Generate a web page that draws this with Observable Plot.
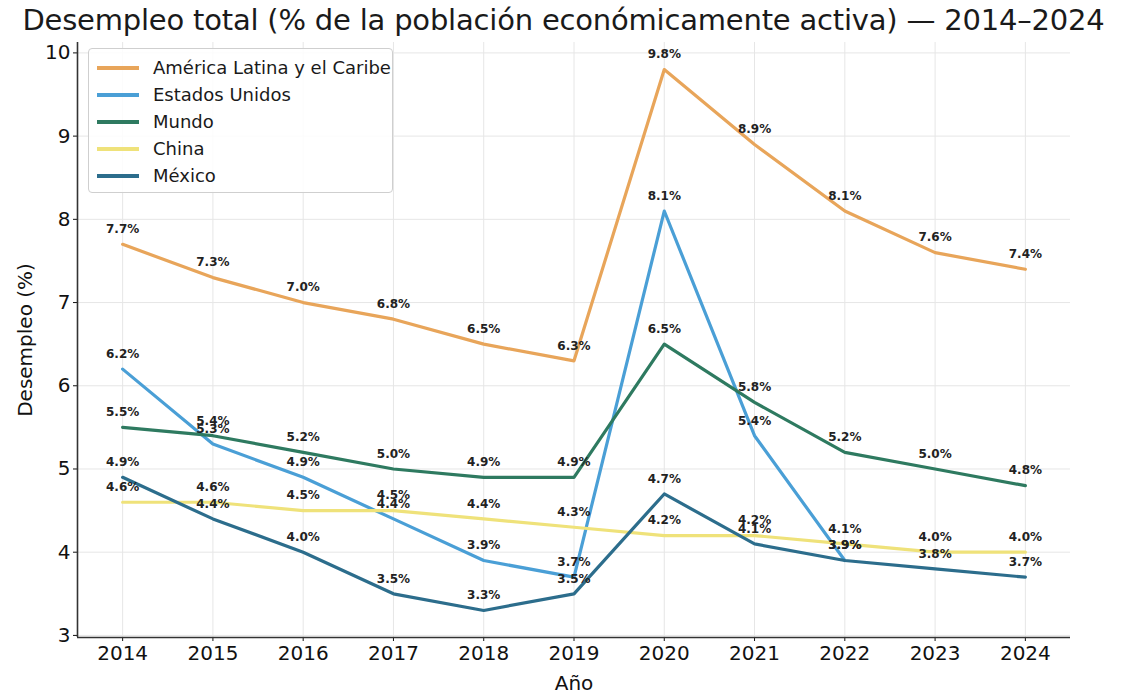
<!DOCTYPE html>
<html><head><meta charset="utf-8">
<script src="https://cdn.jsdelivr.net/npm/d3@7"></script>
<script src="https://cdn.jsdelivr.net/npm/@observablehq/plot@0.6"></script>
<style>
body{margin:0;background:#fff;font-family:"DejaVu Sans",sans-serif}
#wrap{position:relative;width:1127px;height:694px}
#title{height:40px;line-height:40px;text-align:center;font-size:29px;color:#1a1a1a;white-space:nowrap;letter-spacing:-0.2px}
#legend{position:absolute;left:88px;top:48px;width:305px;height:145px;background:rgba(255,255,255,0.85);border:1px solid #cfcfcf;border-radius:4px;box-sizing:border-box;padding-top:5px}
.row{display:flex;align-items:center;height:27px;font-size:18px;color:#1a1a1a}
.sw{width:42px;height:4px;margin-left:8px;margin-right:14px}
</style>
</head><body>
<div id="wrap">
<div id="title">Desempleo total (% de la población económicamente activa) — 2014–2024</div>
<div id="chart"></div>
<div id="legend"></div>
</div>
<script>
const years = [2014, 2015, 2016, 2017, 2018, 2019, 2020, 2021, 2022, 2023, 2024];
const seriesNames = ["América Latina y el Caribe", "Estados Unidos", "Mundo", "China", "México"];
const seriesColors = ["#E8A55A", "#4A9FD6", "#2E7A60", "#EFE27A", "#2C6D8C"];
const latam  = [7.7, 7.3, 7.0, 6.8, 6.5, 6.3, 9.8, 8.9, 8.1, 7.6, 7.4];
const usa    = [6.2, 5.3, 4.9, 4.4, 3.9, 3.7, 8.1, 5.4, 3.9, null, null];
const mundo  = [5.5, 5.4, 5.2, 5.0, 4.9, 4.9, 6.5, 5.8, 5.2, 5.0, 4.8];
const china  = [4.6, 4.6, 4.5, 4.5, 4.4, 4.3, 4.2, 4.2, 4.1, 4.0, 4.0];
const mexico = [4.9, 4.4, 4.0, 3.5, 3.3, 3.5, 4.7, 4.1, 3.9, 3.8, 3.7];
const yTicks = [3, 4, 5, 6, 7, 8, 9, 10];

const allValues = [latam, usa, mundo, china, mexico];
const rows = [];
allValues.forEach((vals, i) => {
  vals.forEach((v, j) => {
    if (v != null) rows.push({serie: seriesNames[i], year: years[j], value: v});
  });
});

const color = {domain: seriesNames, range: seriesColors};

const chart = Plot.plot({
  width: 1127,
  height: 654,
  marginLeft: 77,
  marginRight: 57,
  marginTop: 2,
  marginBottom: 57,
  style: {fontFamily: "DejaVu Sans, sans-serif", fontSize: "20px", color: "#111", background: "transparent"},
  x: {domain: [2013.5, 2024.5], label: "Año"},
  y: {domain: [2.975, 10.125], label: "Desempleo (%)"},
  color,
  marks: [
    Plot.gridX(years, {stroke: "#e6e6e6", strokeOpacity: 1}),
    Plot.gridY(yTicks, {stroke: "#e6e6e6", strokeOpacity: 1}),
    Plot.axisX(years, {tickFormat: d => String(d), tickSize: 4, tickPadding: 4, label: "Año", labelAnchor: "center", labelArrow: "none", labelOffset: 52, fontSize: 20}),
    Plot.axisY(yTicks, {tickFormat: d => String(d), tickSize: 4, tickPadding: 3, label: "Desempleo (%)", labelAnchor: "center", labelArrow: "none", labelOffset: 60, fontSize: 20}),
    Plot.ruleX([2013.5], {stroke: "#333", strokeWidth: 1.6}),
    Plot.ruleY([2.975], {stroke: "#333", strokeWidth: 1.6}),
    Plot.line(rows, {x: "year", y: "value", z: "serie", stroke: "serie", strokeWidth: 3.2, strokeLinejoin: "round"}),
    Plot.text(rows, {x: "year", y: "value", text: d => d.value.toFixed(1) + "%", dy: -15, fill: "#222", fontSize: 12, fontWeight: "bold"})
  ]
});
document.getElementById("chart").appendChild(chart);

const legend = document.getElementById("legend");
seriesNames.forEach((n, i) => {
  const r = document.createElement("div");
  r.className = "row";
  const s = document.createElement("div");
  s.className = "sw";
  s.style.background = seriesColors[i];
  const t = document.createElement("span");
  t.textContent = n;
  r.appendChild(s); r.appendChild(t);
  legend.appendChild(r);
});
</script>
</body></html>
